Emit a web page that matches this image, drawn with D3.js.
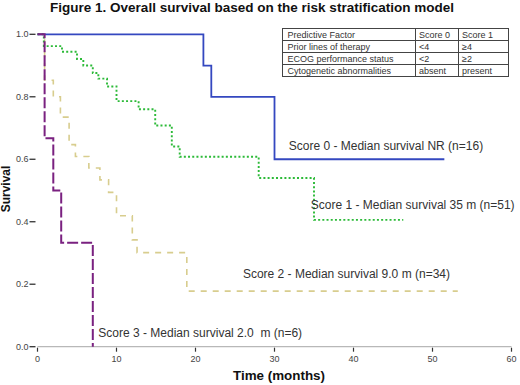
<!DOCTYPE html>
<html lang="en">
<head>
    <meta charset="UTF-8">
    <title>Overall survival</title>
    <script src="https://d3js.org/d3.v7.min.js"></script>
    <style>
        body { margin: 0; background: #fff; }
        text { font-family: Arial, "Liberation Sans", sans-serif; }
        .tick-label { font-size: 9px; fill: #444; }
        .curve-label { font-size: 12px; fill: #333; }
        .tbl { font-size: 9px; fill: #333; }
    </style>
</head>
<body>
    <script>
        const width = 520;
        const height = 385;

        // step points of each Kaplan-Meier curve (months, survival)
        const score0Times = [0, 21, 22, 30, 51.5];
        const score0Surv = [1, 0.9, 0.8, 0.6, 0.6];
        const score1Times = [0, 0.8, 3.1, 5.0, 5.8, 7.0, 7.7, 8.8, 10.0, 12.8, 14.9, 17.0, 18.0, 28.0, 35.0, 46.3];
        const score1Surv = [1, 0.962, 0.944, 0.921, 0.90, 0.876, 0.858, 0.833, 0.786, 0.76, 0.708, 0.641, 0.608, 0.54, 0.406, 0.406];
        const score2Times = [0, 0.9, 2.0, 2.9, 4.0, 4.8, 6.5, 7.9, 9.0, 10.0, 12.0, 12.6, 18.9, 53.2];
        const score2Surv = [1, 0.853, 0.80, 0.735, 0.647, 0.609, 0.572, 0.534, 0.494, 0.419, 0.342, 0.301, 0.178, 0.178];
        const score3Times = [0, 0.9, 2.0, 3.0, 7.0];
        const score3Surv = [1, 0.667, 0.5, 0.333, 0];

        const curveLabels = [
            "Score 0 - Median survival NR (n=16)",
            "Score 1 - Median survival 35 m (n=51)",
            "Score 2 - Median survival 9.0 m (n=34)",
            "Score 3 - Median survival 2.0\u00a0 m (n=6)"
        ];
        // where each label sits, in data units (month, survival)
        const labelAt = [[31.8, 0.63], [34.6, 0.44], [26.0, 0.22], [7.7, 0.03]];

        const xTicks = [0, 10, 20, 30, 40, 50, 60];
        const yTicks = [0, 0.2, 0.4, 0.6, 0.8, 1.0];

        const tableHeader = ["Predictive Factor", "Score 0", "Score 1"];
        const tableRows = [
            ["Prior lines of therapy", "<4", "\u22654"],
            ["ECOG performance status", "<2", "\u22652"],
            ["Cytogenetic abnormalities", "absent", "present"]
        ];

        const styles = [
            { color: "#3448c0", dash: null, w: 1.8 },
            { color: "#2cba38", dash: "2,2.2", w: 1.9 },
            { color: "#d8cd8e", dash: "6,6", w: 1.6 },
            { color: "#7a2180", dash: "11,3", w: 2 }
        ];

        const svg = d3.select("body")
            .append("svg")
            .attr("width", width)
            .attr("height", height);

        const x = d3.scaleLinear().domain([0, 60]).range([37.5, 511.5]);
        const y = d3.scaleLinear().domain([0, 1]).range([346.7, 34.3]);

        // title
        svg.append("text")
            .attr("x", 50)
            .attr("y", 12)
            .attr("textLength", 404)
            .attr("lengthAdjust", "spacingAndGlyphs")
            .style("font-size", "13px")
            .style("font-weight", "bold")
            .style("fill", "#111")
            .text("Figure 1. Overall survival based on the risk stratification model");

        // x axis line
        svg.append("line")
            .attr("x1", x(0)).attr("x2", x(60))
            .attr("y1", y(0)).attr("y2", y(0))
            .style("stroke", "#b8b8b8").style("stroke-width", 1.2);

        // x ticks
        const xg = svg.append("g");
        xTicks.forEach(t => {
            xg.append("line")
                .attr("x1", x(t)).attr("x2", x(t))
                .attr("y1", y(0) + 1).attr("y2", y(0) + 5)
                .style("stroke", "#333").style("stroke-width", 1.2);
            xg.append("text")
                .attr("class", "tick-label")
                .attr("x", x(t))
                .attr("y", 362)
                .attr("text-anchor", "middle")
                .text(t);
        });

        // y ticks
        const yg = svg.append("g");
        yTicks.forEach(t => {
            yg.append("line")
                .attr("x1", x(0) - 8).attr("x2", x(0) - 2)
                .attr("y1", y(t)).attr("y2", y(t))
                .style("stroke", "#333").style("stroke-width", 1.3);
            yg.append("text")
                .attr("class", "tick-label")
                .attr("x", x(0) - 9)
                .attr("y", y(t))
                .attr("dy", "0.35em")
                .attr("text-anchor", "end")
                .text(t.toFixed(1));
        });

        // axis titles
        svg.append("text")
            .attr("transform", "translate(10,189) rotate(-90)")
            .attr("text-anchor", "middle")
            .style("font-size", "12px")
            .style("font-weight", "bold")
            .style("fill", "#111")
            .text("Survival");

        svg.append("text")
            .attr("x", 279)
            .attr("y", 380)
            .attr("text-anchor", "middle")
            .attr("textLength", 92)
            .attr("lengthAdjust", "spacingAndGlyphs")
            .style("font-size", "12px")
            .style("font-weight", "bold")
            .style("fill", "#111")
            .text("Time (months)");

        // curves
        const line = d3.line()
            .x(d => x(d[0]))
            .y(d => y(d[1]))
            .curve(d3.curveStepAfter);

        const series = [
            d3.zip(score0Times, score0Surv),
            d3.zip(score1Times, score1Surv),
            d3.zip(score2Times, score2Surv),
            d3.zip(score3Times, score3Surv)
        ];

        // draw bottom-up so purple sits on top as in the picture
        [2, 1, 0, 3].forEach(i => {
            svg.append("path")
                .datum(series[i])
                .attr("d", line)
                .style("fill", "none")
                .style("stroke", styles[i].color)
                .style("stroke-width", styles[i].w)
                .style("stroke-dasharray", styles[i].dash);
        });

        // curve labels
        curveLabels.forEach((s, i) => {
            svg.append("text")
                .attr("class", "curve-label")
                .attr("x", x(labelAt[i][0]))
                .attr("y", y(labelAt[i][1]))
                .text(s);
        });

        // factor table
        const colX = [282.5, 415.5, 458.5, 508.5];
        const rowY = [28.5, 40.5, 52.5, 64.5, 76.5];
        const tbl = svg.append("g");
        tbl.append("rect")
            .attr("x", colX[0]).attr("y", rowY[0])
            .attr("width", colX[3] - colX[0]).attr("height", rowY[4] - rowY[0])
            .style("fill", "none").style("stroke", "#444");
        rowY.slice(1, 4).forEach(ry => {
            tbl.append("line")
                .attr("x1", colX[0]).attr("x2", colX[3])
                .attr("y1", ry).attr("y2", ry)
                .style("stroke", "#444");
        });
        colX.slice(1, 3).forEach(cx => {
            tbl.append("line")
                .attr("x1", cx).attr("x2", cx)
                .attr("y1", rowY[0]).attr("y2", rowY[4])
                .style("stroke", "#444");
        });
        [tableHeader].concat(tableRows).forEach((row, r) => {
            row.forEach((cell, c) => {
                tbl.append("text")
                    .attr("class", "tbl")
                    .attr("x", colX[c] + (c === 0 ? 5 : 3.5))
                    .attr("y", rowY[r] + 9)
                    .text(cell);
            });
        });
    </script>
</body>
</html>
